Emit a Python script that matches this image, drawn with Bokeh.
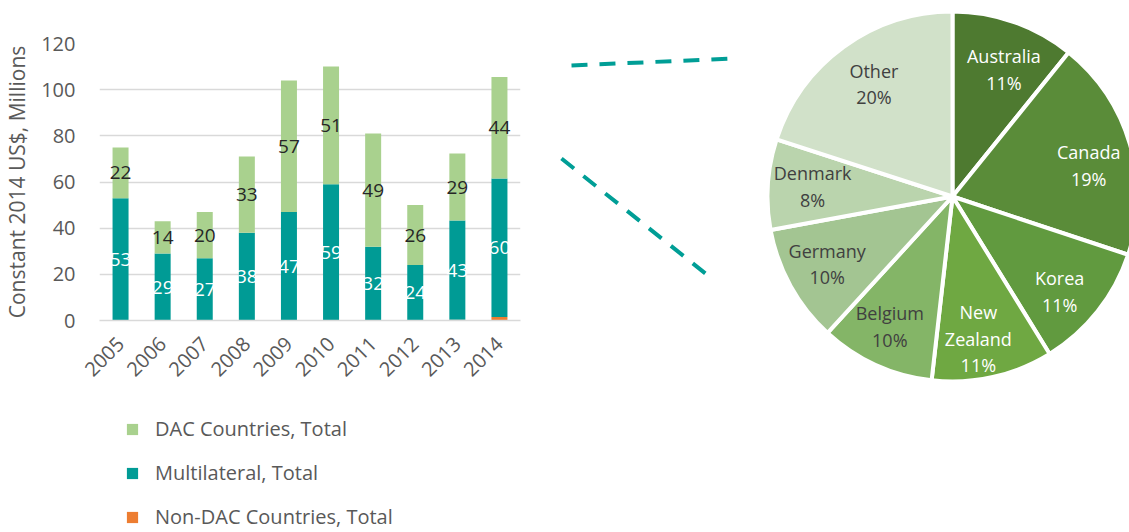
import math
from bokeh.plotting import figure
from bokeh.layouts import row, column
from bokeh.models import ColumnDataSource, Range1d, FactorRange, Legend, LegendItem
from bokeh.core.properties import value
from bokeh.embed import file_html
from bokeh.resources import INLINE

# ---------------- data ----------------
years = ["2005", "2006", "2007", "2008", "2009", "2010", "2011", "2012", "2013", "2014"]
multilateral = [53, 29, 27, 38, 47, 59, 32, 24, 43, 60]
dac = [22, 14, 20, 33, 57, 51, 49, 26, 29, 44]
non_dac = [0, 0, 0, 0, 0, 0, 0, 0, 0.3, 1.5]
y_ticks = [0, 20, 40, 60, 80, 100, 120]
series_names = ["DAC Countries, Total", "Multilateral, Total", "Non-DAC Countries, Total"]
series_colors = ["#A9D18E", "#009B95", "#ED7D31"]

pie_names = ["Australia", "Canada", "Korea", "New\nZealand", "Belgium", "Germany", "Denmark", "Other"]
pie_shares = [10.8, 19.3, 11.1, 10.6, 10.0, 10.3, 7.9, 20.0]
pie_colors = ["#4E7A30", "#5A8C39", "#619A3F", "#6FA842", "#84B567", "#A3C592", "#BAD4AD", "#D1E1C9"]
pie_text_colors = ["white", "white", "white", "white", "#404040", "#404040", "#404040", "#404040"]

FONT = "Open Sans"
H = 532
W1 = 556
HP = 392

# ---------------- bar chart ----------------
p = figure(width=W1, height=HP, x_range=FactorRange(factors=years), y_range=Range1d(0, 120),
           toolbar_location=None, output_backend="svg",
           min_border_left=97, min_border_right=36, min_border_top=43, min_border_bottom=HP - 320)
p.frame_align = False
p.outline_line_color = None
p.xgrid.grid_line_color = None
p.ygrid.grid_line_color = "#D9D9D9"
p.ygrid.grid_line_width = 1.5

src = ColumnDataSource(dict(x=years, non_dac=non_dac, multi=multilateral, dac=dac))
rs = p.vbar_stack(["non_dac", "multi", "dac"], x="x", width=0.38, source=src,
                  color=[series_colors[2], series_colors[1], series_colors[0]], line_color=None)

multi_y = [n + m / 2 for n, m in zip(non_dac, multilateral)]
dac_y = [n + m + d / 2 for n, m, d in zip(non_dac, multilateral, dac)]
p.text(x=years, y=multi_y, text=[str(v) for v in multilateral], text_color="white",
       text_font=value(FONT), text_font_size="19px", text_align="center", text_baseline="middle")
p.text(x=years, y=dac_y, text=[str(v) for v in dac], text_color="#262626",
       text_font=value(FONT), text_font_size="19px", text_align="center", text_baseline="middle")

p.yaxis.ticker = y_ticks
p.yaxis.axis_line_color = None
p.yaxis.major_tick_line_color = None
p.yaxis.minor_tick_line_color = None
p.yaxis.major_label_standoff = 18
p.yaxis.major_label_text_font = FONT
p.yaxis.major_label_text_font_size = "20px"
p.yaxis.major_label_text_color = "#595959"
p.yaxis.axis_label = "Constant 2014 US$, Millions"
p.yaxis.axis_label_text_font = FONT
p.yaxis.axis_label_text_font_size = "21px"
p.yaxis.axis_label_text_font_style = "normal"
p.yaxis.axis_label_text_color = "#595959"
p.yaxis.axis_label_standoff = 7

p.xaxis.axis_line_color = "#D9D9D9"
p.xaxis.axis_line_width = 1.5
p.xaxis.major_tick_line_color = None
p.xaxis.minor_tick_line_color = None
p.xaxis.major_label_orientation = math.pi / 4
p.xaxis.major_label_standoff = 14
p.xaxis.major_label_text_font = FONT
p.xaxis.major_label_text_font_size = "20px"
p.xaxis.major_label_text_color = "#595959"

# ---------------- legend panel ----------------
L = figure(width=W1, height=H - HP, x_range=Range1d(0, 1), y_range=Range1d(0, 1),
           toolbar_location=None, output_backend="svg", min_border=0,
           x_axis_location=None, y_axis_location=None)
L.frame_align = False
L.grid.visible = False
L.outline_line_color = None
items = []
nan = float("nan")
for name, col in zip(series_names, series_colors):
    r = L.quad(left=[nan], right=[nan], top=[nan], bottom=[nan], fill_color=col, line_color=None)
    items.append(LegendItem(label=name, renderers=[r]))
legend = Legend(items=items, location=(125, 2), orientation="vertical", padding=0, margin=0,
                spacing=17, label_height=20, glyph_width=14, glyph_height=14,
                label_standoff=16, border_line_color=None, background_fill_alpha=0,
                label_text_font=FONT, label_text_font_size="20px", label_text_color="#595959")
L.add_layout(legend)

# ---------------- pie chart ----------------
W2 = 1129 - W1
q = figure(width=W2, height=H, x_range=Range1d(0, W2), y_range=Range1d(0, H),
           toolbar_location=None, output_backend="svg", min_border=0,
           x_axis_location=None, y_axis_location=None)
q.frame_align = False
q.grid.visible = False
q.outline_line_color = None

cx, cy, R = 396, H - 196, 185
total = sum(pie_shares)
starts, ends, lx, ly, labels = [], [], [], [], []
cum = 0.0
for name, s in zip(pie_names, pie_shares):
    a0 = math.pi / 2 - 2 * math.pi * cum / total
    a1 = math.pi / 2 - 2 * math.pi * (cum + s) / total
    starts.append(a1)
    ends.append(a0)
    mid = (a0 + a1) / 2 - 0.035
    lx.append(cx + 0.76 * R * math.cos(mid))
    ly.append(cy + 0.76 * R * math.sin(mid) - 4)
    labels.append(f"{name}\n{round(s / total * 100)}%")
    cum += s

psrc = ColumnDataSource(dict(start=starts, end=ends, color=pie_colors, lx=lx, ly=ly,
                             label=labels, tc=pie_text_colors))
q.wedge(x=cx, y=cy, radius=R, start_angle="start", end_angle="end", fill_color="color",
        line_color="white", line_width=4, source=psrc)
q.text(x="lx", y="ly", text="label", text_color="tc", source=psrc, text_font=value(FONT),
       text_font_size="18px", text_align="center", text_baseline="middle", text_line_height=1.1)

# connector lines (layout decoration between the two charts)
q.line(x=[15, 177], y=[H - 65, H - 58], line_color="#009E96", line_width=4, line_dash="16 12")
q.line(x=[5, 154], y=[H - 158, H - 277], line_color="#009E96", line_width=4, line_dash="16 12")

layout = row(column(p, L), q)
open("out.html", "w").write(file_html(layout, INLINE))
